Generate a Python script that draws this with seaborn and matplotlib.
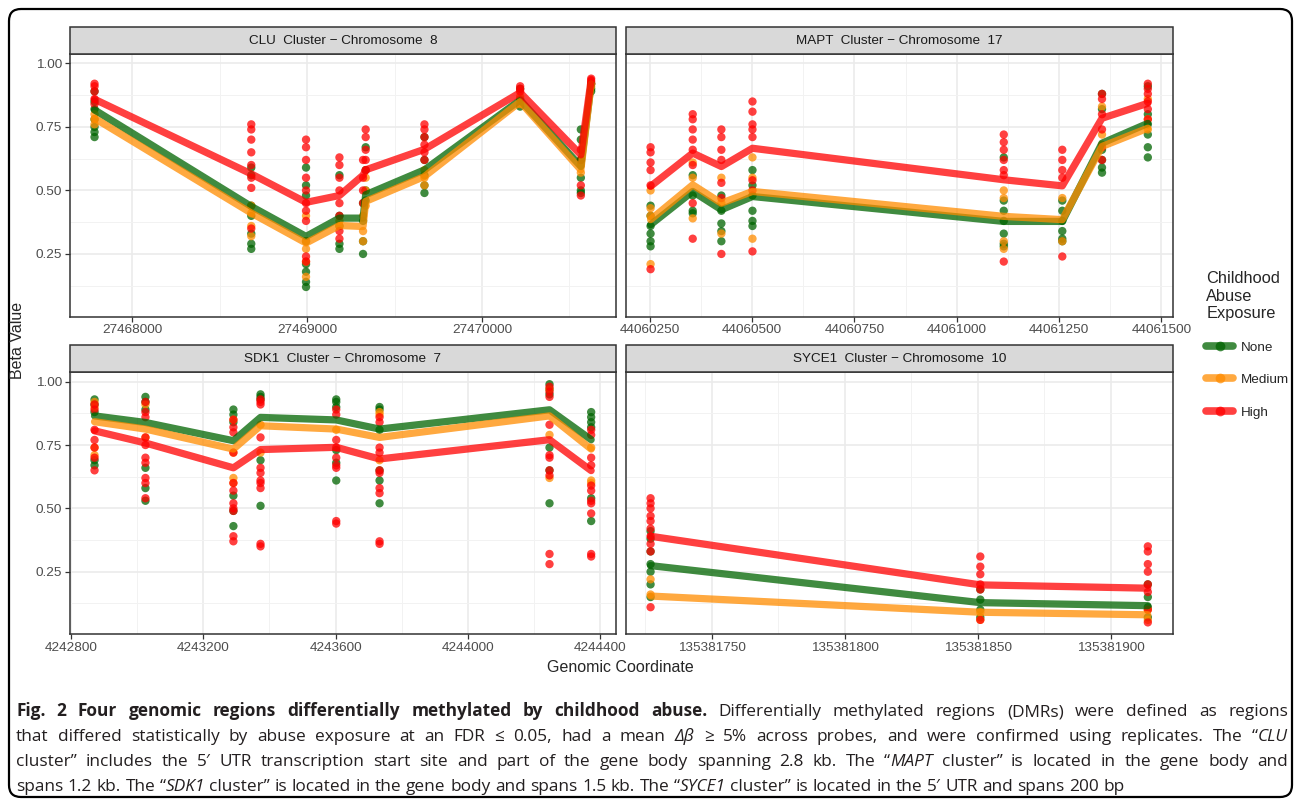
### Four DMR clusters: beta values by childhood abuse exposure ###

import matplotlib
matplotlib.use("Agg")
import matplotlib.pyplot as plt
from matplotlib.lines import Line2D
from matplotlib.patches import Rectangle, FancyBboxPatch
from matplotlib.transforms import IdentityTransform
from matplotlib.ticker import FixedLocator, FuncFormatter
import pandas as pd
import seaborn as sns

groups = ["None", "Medium", "High"]
palette = {"None": "#006400", "Medium": "#FF8C00", "High": "#FF0000"}

# CLU cluster - chromosome 8
clu_pos = [27467785, 27468681, 27468994, 27469185, 27469320, 27469335, 27469671, 27470218, 27470565, 27470624]
clu_none = [0.817, 0.437, 0.319, 0.391, 0.391, 0.483, 0.581, 0.856, 0.594, 0.920]
clu_medium = [0.784, 0.411, 0.293, 0.362, 0.358, 0.457, 0.555, 0.849, 0.581, 0.920]
clu_high = [0.859, 0.565, 0.453, 0.480, 0.560, 0.581, 0.662, 0.885, 0.640, 0.937]
clu_none_pts = [[0.89, 0.85, 0.82, 0.78, 0.75, 0.73, 0.71], [0.59, 0.56, 0.44, 0.40, 0.33, 0.29, 0.27],
                [0.59, 0.52, 0.48, 0.30, 0.21, 0.18, 0.14, 0.12], [0.56, 0.40, 0.36, 0.29, 0.27],
                [0.45, 0.38, 0.30, 0.25], [0.67, 0.58, 0.50, 0.46], [0.71, 0.62, 0.56, 0.52, 0.49],
                [0.90, 0.86, 0.83], [0.74, 0.70, 0.62, 0.55, 0.50, 0.49], [0.92, 0.90, 0.89]]
clu_medium_pts = [[0.80, 0.78, 0.76], [0.44, 0.41, 0.36, 0.32], [0.40, 0.30, 0.27, 0.22, 0.16], [0.38, 0.36],
                  [0.40, 0.34, 0.30], [0.55, 0.50, 0.44], [0.58, 0.55, 0.52], [0.87, 0.84], [0.60, 0.57],
                  [0.92, 0.91]]
clu_high_pts = [[0.92, 0.91, 0.89, 0.86, 0.84], [0.76, 0.74, 0.70, 0.65, 0.60, 0.55, 0.51, 0.35],
                [0.70, 0.67, 0.62, 0.55, 0.50, 0.45, 0.42, 0.38, 0.24, 0.22],
                [0.63, 0.60, 0.55, 0.50, 0.45, 0.40, 0.34, 0.31], [0.62, 0.55, 0.50, 0.45],
                [0.74, 0.71, 0.66, 0.62, 0.58], [0.76, 0.74, 0.71, 0.68, 0.65, 0.62], [0.91, 0.90, 0.89],
                [0.66, 0.62, 0.52, 0.48], [0.94, 0.93, 0.92]]
clu_ticks = [27468000, 27469000, 27470000]
clu_minor = [27468500, 27469500, 27470500]

# MAPT cluster - chromosome 17
mapt_pos = [44060252, 44060355, 44060425, 44060501, 44061115, 44061258, 44061355, 44061467]
mapt_none = [0.365, 0.496, 0.424, 0.476, 0.378, 0.378, 0.686, 0.764]
mapt_medium = [0.385, 0.522, 0.450, 0.496, 0.398, 0.385, 0.673, 0.745]
mapt_high = [0.516, 0.647, 0.594, 0.666, 0.542, 0.518, 0.784, 0.843]
mapt_none_pts = [[0.44, 0.40, 0.36, 0.33, 0.30, 0.28], [0.56, 0.48, 0.42, 0.41], [0.48, 0.42, 0.37, 0.34, 0.30],
                 [0.58, 0.52, 0.48, 0.42, 0.38, 0.36], [0.63, 0.46, 0.42, 0.38, 0.33, 0.29, 0.28],
                 [0.46, 0.42, 0.38, 0.34, 0.31, 0.30], [0.88, 0.82, 0.66, 0.62, 0.59, 0.57],
                 [0.91, 0.80, 0.76, 0.72, 0.67, 0.63]]
mapt_medium_pts = [[0.50, 0.43, 0.40, 0.21], [0.61, 0.55, 0.39], [0.55, 0.45, 0.33], [0.63, 0.55, 0.31],
                   [0.50, 0.47, 0.30, 0.27], [0.47, 0.30], [0.83, 0.72, 0.68], [0.86, 0.78, 0.74]]
mapt_high_pts = [[0.67, 0.65, 0.61, 0.58, 0.52, 0.19], [0.80, 0.78, 0.74, 0.70, 0.66, 0.60, 0.45, 0.31],
                 [0.74, 0.71, 0.66, 0.62, 0.53, 0.47, 0.25], [0.85, 0.81, 0.76, 0.74, 0.71, 0.54, 0.50, 0.26],
                 [0.72, 0.69, 0.66, 0.62, 0.58, 0.56, 0.22], [0.66, 0.62, 0.58, 0.55, 0.24],
                 [0.88, 0.86, 0.80, 0.74, 0.67, 0.62], [0.92, 0.90, 0.88, 0.85, 0.82, 0.78]]
mapt_ticks = [44060250, 44060500, 44060750, 44061000, 44061250, 44061500]
mapt_minor = [44060375, 44060625, 44060875, 44061125, 44061375]

# SDK1 cluster - chromosome 7
sdk1_pos = [4242871, 4243025, 4243291, 4243373, 4243602, 4243733, 4244247, 4244373]
sdk1_none = [0.865, 0.839, 0.767, 0.859, 0.849, 0.813, 0.889, 0.771]
sdk1_medium = [0.842, 0.813, 0.734, 0.826, 0.813, 0.780, 0.865, 0.734]
sdk1_high = [0.806, 0.758, 0.660, 0.732, 0.741, 0.695, 0.771, 0.649]
sdk1_none_pts = [[0.93, 0.91, 0.88, 0.69, 0.67], [0.94, 0.92, 0.89, 0.66, 0.58, 0.53],
                 [0.89, 0.87, 0.84, 0.55, 0.49, 0.43], [0.95, 0.94, 0.93, 0.69, 0.51],
                 [0.93, 0.92, 0.90, 0.73, 0.68, 0.61], [0.90, 0.89, 0.81, 0.65, 0.61, 0.52],
                 [0.99, 0.97, 0.95, 0.74, 0.65, 0.52], [0.88, 0.86, 0.84, 0.82, 0.54, 0.45]]
sdk1_medium_pts = [[0.92, 0.90, 0.74, 0.71], [0.91, 0.78], [0.85, 0.72, 0.62, 0.60], [0.83, 0.72], [0.81],
                   [0.88, 0.87, 0.69], [0.97, 0.79, 0.62], [0.74, 0.61, 0.60]]
sdk1_high_pts = [[0.91, 0.89, 0.81, 0.77, 0.74, 0.70, 0.65],
                 [0.92, 0.88, 0.86, 0.78, 0.75, 0.70, 0.68, 0.62, 0.60, 0.54],
                 [0.85, 0.82, 0.80, 0.72, 0.60, 0.57, 0.52, 0.50, 0.49, 0.39, 0.37],
                 [0.93, 0.92, 0.91, 0.78, 0.66, 0.64, 0.61, 0.60, 0.58, 0.36, 0.35],
                 [0.89, 0.87, 0.77, 0.74, 0.70, 0.67, 0.66, 0.45, 0.44],
                 [0.86, 0.84, 0.74, 0.72, 0.65, 0.64, 0.58, 0.56, 0.37, 0.36],
                 [0.98, 0.96, 0.94, 0.83, 0.71, 0.70, 0.65, 0.63, 0.32, 0.28],
                 [0.81, 0.79, 0.70, 0.67, 0.59, 0.57, 0.53, 0.52, 0.48, 0.32, 0.31]]
sdk1_ticks = [4242800, 4243200, 4243600, 4244000, 4244400]
sdk1_minor = [4243000, 4243400, 4243800, 4244200]

# SYCE1 cluster - chromosome 10
syce1_pos = [135381727, 135381851, 135381914]
syce1_none = [0.274, 0.128, 0.116]
syce1_medium = [0.154, 0.090, 0.080]
syce1_high = [0.390, 0.198, 0.185]
syce1_none_pts = [[0.41, 0.38, 0.33, 0.28, 0.25, 0.20, 0.15], [0.18, 0.14, 0.10, 0.07], [0.20, 0.15, 0.11, 0.07]]
syce1_medium_pts = [[0.22, 0.16], [0.09, 0.06], [0.10, 0.06]]
syce1_high_pts = [[0.54, 0.52, 0.50, 0.47, 0.45, 0.42, 0.39, 0.36, 0.33, 0.11],
                  [0.31, 0.27, 0.24, 0.20, 0.18, 0.06], [0.35, 0.33, 0.28, 0.25, 0.20, 0.17, 0.10, 0.05]]
syce1_ticks = [135381750, 135381800, 135381850, 135381900]
syce1_minor = [135381725, 135381775, 135381825, 135381875]

y_ticks = [0.25, 0.50, 0.75, 1.00]
y_minor = [0.125, 0.375, 0.625, 0.875]

panels = [
    ("CLU  Cluster \u2212 Chromosome  8", clu_pos, [clu_none, clu_medium, clu_high],
     [clu_none_pts, clu_medium_pts, clu_high_pts], clu_ticks, clu_minor),
    ("MAPT  Cluster \u2212 Chromosome  17", mapt_pos, [mapt_none, mapt_medium, mapt_high],
     [mapt_none_pts, mapt_medium_pts, mapt_high_pts], mapt_ticks, mapt_minor),
    ("SDK1  Cluster \u2212 Chromosome  7", sdk1_pos, [sdk1_none, sdk1_medium, sdk1_high],
     [sdk1_none_pts, sdk1_medium_pts, sdk1_high_pts], sdk1_ticks, sdk1_minor),
    ("SYCE1  Cluster \u2212 Chromosome  10", syce1_pos, [syce1_none, syce1_medium, syce1_high],
     [syce1_none_pts, syce1_medium_pts, syce1_high_pts], syce1_ticks, syce1_minor),
]

sns.set_theme(style="white")
plt.rcParams["font.family"] = ["Liberation Sans", "DejaVu Sans"]

W, H = 1300, 805
fig = plt.figure(figsize=(W / 100, H / 100), dpi=100)

# shared y range with ggplot-like 5% expansion
all_y = [y for p in panels for g in p[3] for probe in g for y in probe]
ymin, ymax = min(all_y), max(all_y)
ypad = 0.05 * (ymax - ymin)

# panel boxes in pixels: left, top, right, bottom
boxes = [(69.7, 54, 616, 316.7), (625.7, 54, 1172.7, 316.7),
         (69.7, 372.3, 616, 634.3), (625.7, 372.3, 1172.7, 634.3)]
strip_px = 27

for i, (title, pos, means, pts, ticks, minor) in enumerate(panels):
    l, t, r, b = boxes[i]
    ax = fig.add_axes([l / W, 1 - b / H, (r - l) / W, (b - t) / H])

    rows = []
    for g, probes in zip(groups, pts):
        for x, ys in zip(pos, probes):
            rows += [(x, y, g) for y in ys]
    df_pts = pd.DataFrame(rows, columns=["pos", "beta", "group"])
    df_line = pd.DataFrame([(x, y, g) for g, m in zip(groups, means) for x, y in zip(pos, m)],
                           columns=["pos", "beta", "group"])

    sns.scatterplot(data=df_pts, x="pos", y="beta", hue="group", hue_order=groups, palette=palette,
                    s=36, alpha=0.75, linewidth=0, legend=False, ax=ax, zorder=3)
    sns.lineplot(data=df_line, x="pos", y="beta", hue="group", hue_order=groups, palette=palette,
                 estimator=None, lw=5.2, alpha=0.75, legend=False, ax=ax, zorder=4,
                 solid_joinstyle="round")

    xpad = 0.05 * (max(pos) - min(pos))
    ax.set_xlim(min(pos) - xpad, max(pos) + xpad)
    ax.set_ylim(ymin - ypad, ymax + ypad)

    ax.xaxis.set_major_locator(FixedLocator(ticks))
    ax.xaxis.set_minor_locator(FixedLocator(minor))
    ax.yaxis.set_major_locator(FixedLocator(y_ticks))
    ax.yaxis.set_minor_locator(FixedLocator(y_minor))
    ax.xaxis.set_major_formatter(FuncFormatter(lambda v, p: f"{v:.0f}"))
    ax.yaxis.set_major_formatter(FuncFormatter(lambda v, p: f"{v:.2f}"))
    ax.grid(True, which="major", color="#EBEBEB", lw=1.2, zorder=0)
    ax.grid(True, which="minor", color="#F2F2F2", lw=0.7, zorder=0)
    ax.set_axisbelow(True)
    ax.tick_params(which="major", length=3.5, width=0.9, color="#333333", labelsize=9.7,
                   labelcolor="#4D4D4D", pad=2, bottom=True, left=True)
    ax.tick_params(which="minor", length=0)
    if i % 2 == 1:
        ax.tick_params(axis="y", which="both", left=False, labelleft=False)
    ax.set_xlabel("")
    ax.set_ylabel("")
    for sp in ax.spines.values():
        sp.set_color("#333333")
        sp.set_linewidth(1.1)

    sh = strip_px / (b - t)
    ax.add_patch(Rectangle((0, 1), 1, sh, transform=ax.transAxes, clip_on=False,
                           fc="#D9D9D9", ec="#333333", lw=1.1, zorder=5))
    ax.text(0.5, 1 + sh / 2, title, transform=ax.transAxes, ha="center", va="center",
            fontsize=9.7, color="#1A1A1A", zorder=6)

fig.text(18 / W, 1 - 340 / H, "Beta Value", rotation=90, ha="center", va="center", fontsize=11.5)
fig.text(620 / W, 1 - 668 / H, "Genomic Coordinate", ha="center", va="center", fontsize=11.5)

handles = [Line2D([0], [0], color=palette[g], lw=5.5, alpha=0.75, marker="o", markersize=7,
                  markeredgewidth=0) for g in groups]
fig.legend(handles, groups, title="Childhood\nAbuse\nExposure", loc="upper left",
           bbox_to_anchor=(1194 / W, 1 - 259 / H), frameon=False, fontsize=9.7,
           title_fontsize=11.8, handlelength=2.0, labelspacing=1.5, alignment="left",
           handletextpad=0.6)

# outer rounded frame
fig.patches.append(FancyBboxPatch((9, 8), 1283, 788, boxstyle="round,pad=0,rounding_size=12",
                                  transform=IdentityTransform(), fill=False, ec="black", lw=1.6))

# caption, justified word by word
cap_lines = [
    [("b", "Fig. 2 Four genomic regions differentially methylated by childhood abuse."),
     ("n", " Differentially methylated regions (DMRs) were defined as regions")],
    [("n", "that differed statistically by abuse exposure at an FDR \u2264 0.05, had a mean "), ("i", "\u0394\u03b2"),
     ("n", " \u2265 5% across probes, and were confirmed using replicates. The \u201c"), ("i", "CLU")],
    [("n", "cluster\u201d includes the 5\u2032 UTR transcription start site and part of the gene body spanning 2.8 kb. The \u201c"),
     ("i", "MAPT"), ("n", " cluster\u201d is located in the gene body and")],
    [("n", "spans 1.2 kb. The \u201c"), ("i", "SDK1"),
     ("n", " cluster\u201d is located in the gene body and spans 1.5 kb. The \u201c"), ("i", "SYCE1"),
     ("n", " cluster\u201d is located in the 5\u2032 UTR and spans 200 bp")],
]
cap_base = [716, 741, 766, 791]
cap_left, cap_right = 16, 1288
cap_font = ["Open Sans", "DejaVu Sans"]


def cap_kw(style):
    kw = dict(family=cap_font, fontsize=12.45, color="#231F20", va="baseline", ha="left")
    if style == "b":
        kw["fontweight"] = "bold"
    if style == "i":
        kw["fontstyle"] = "italic"
    return kw


def tokenize(runs):
    toks = [[]]
    for style, txt in runs:
        for k, part in enumerate(txt.split(" ")):
            if k > 0:
                toks.append([])
            if part:
                toks[-1].append((style, part))
    return [tk for tk in toks if tk]


fig.canvas.draw()
rend = fig.canvas.get_renderer()
probe = fig.text(0, 0, "x x", **cap_kw("n"))
probe2 = fig.text(0, 0, "xx", **cap_kw("n"))
space_w = probe.get_window_extent(rend).width - probe2.get_window_extent(rend).width
probe.remove()
probe2.remove()

for li, runs in enumerate(cap_lines):
    y = 1 - cap_base[li] / H
    toks = tokenize(runs)
    placed = []
    total = 0
    for tk in toks:
        arts = []
        for style, txt in tk:
            a = fig.text(0, y, txt, **cap_kw(style))
            w = a.get_window_extent(rend).width
            arts.append((a, w))
            total += w
        placed.append(arts)
    if li < len(cap_lines) - 1:
        gap = max((cap_right - cap_left - total) / (len(toks) - 1), 0.6 * space_w)
    else:
        gap = space_w
    x = cap_left
    for arts in placed:
        for a, w in arts:
            a.set_x(x / W)
            x += w
        x += gap

fig.savefig("out.png", dpi=100)
